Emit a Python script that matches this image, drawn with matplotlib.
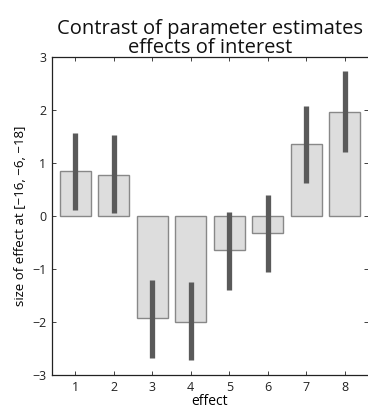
import matplotlib.pyplot as plt
import numpy as np

effects = [1, 2, 3, 4, 5, 6, 7, 8]
values = [0.85, 0.78, -1.93, -2.0, -0.65, -0.32, 1.35, 1.97]
ci_low = [0.12, 0.05, -2.67, -2.72, -1.40, -1.05, 0.62, 1.20]
ci_high = [1.57, 1.52, -1.20, -1.25, 0.07, 0.40, 2.08, 2.74]
yticks = [-3, -2, -1, 0, 1, 2, 3]

plt.rcParams['font.family'] = ['Open Sans', 'DejaVu Sans']

fig = plt.figure(figsize=(3.68, 4.12), dpi=100)
ax = fig.add_axes([52 / 368, 1 - 375 / 412, 316 / 368, 318 / 412])

ax.bar(effects, values, width=0.8, color='#dddddd', edgecolor='#888888', linewidth=1.0, zorder=2)
ax.vlines(effects, ci_low, ci_high, color='#5a5a5a', linewidth=3.8, zorder=3)

ax.set_xlim(0.4, 8.6)
ax.set_ylim(-3, 3)
ax.set_xticks(effects)
ax.set_yticks(yticks)
ax.set_yticklabels(['\u22123', '\u22122', '\u22121', '0', '1', '2', '3'])
ax.tick_params(direction='in', top=True, right=True, length=3, width=0.6,
               labelsize=9, colors='#222222', pad=4)
for s in ['left', 'bottom', 'top']:
    ax.spines[s].set_linewidth(0.9)
    ax.spines[s].set_color('#222222')
ax.spines['right'].set_visible(False)

ax.set_xlabel('effect', fontsize=10, labelpad=0)
ax.set_ylabel('size of effect at [\u221216, \u22126, \u221218]', fontsize=9.5, labelpad=4)
ax.set_title('Contrast of parameter estimates\neffects of interest', fontsize=14.5,
             linespacing=0.92, pad=3, color='#111111')

fig.savefig('out.png', dpi=100)
